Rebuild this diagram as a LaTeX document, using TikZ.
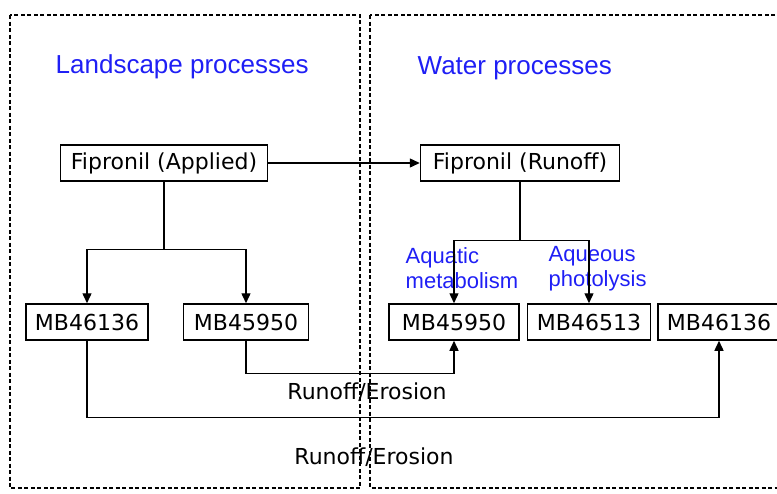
\documentclass[tikz,border=0pt]{standalone}
\usepackage{fontspec}
\setmainfont{DejaVu Sans}
\newfontfamily\arialfont{Liberation Sans}
\usetikzlibrary{arrows.meta, positioning}
\definecolor{cblue}{HTML}{1F1FF5}
\tikzset{
  every picture/.style={line width=1.4pt, x=1pt, y=-1pt},
  box/.style={draw, line width=1.5pt, minimum width=#1, minimum height=36pt, inner sep=0pt,
    font=\fontsize{22}{26}\selectfont},
  box/.default=122pt,
  zone/.style={dash pattern=on 4pt off 2.5pt, line width=1.3pt},
  arrow/.style={-{Triangle[length=10pt, width=9pt]}, line width=1.4pt},
  title/.style={text=cblue, font=\arialfont\fontsize{26}{30}\selectfont, anchor=west, inner sep=0pt},
  proc/.style={text=cblue, font=\arialfont\fontsize{22}{25}\selectfont, align=left, anchor=west, inner sep=0pt},
  flow/.style={font=\fontsize{22}{26}\selectfont, inner sep=0pt},
}
\begin{document}
\begin{tikzpicture}
  \useasboundingbox (0,0) rectangle (777,493);
  \clip (0,0) rectangle (777,493);
  % the two zones
  \draw[zone] (10,15) rectangle (360,488);
  \draw[zone] (370,15) rectangle (795,488);
  \node[title] (landscape) at (55,67) {Landscape processes};
  \node[title] (water) at (417,68) {Water processes};
  % compounds
  \node[box=207pt] (applied) at (164,163) {Fipronil (Applied)};
  \node[box=199pt] (runoff) at (520,163) {Fipronil (Runoff)};
  \node[box=122pt] (lmb46136) at (87,322) {MB46136};
  \node[box=125pt] (lmb45950) at (246,322) {MB45950};
  \node[box=130pt] (rmb45950) at (454,322) {MB45950};
  \node[box=123pt] (mb46513) at (589,322) {MB46513};
  \node[box=122pt] (rmb46136) at (719,322) {MB46136};
  % transformations
  \node[proc] (aquatic) at (405,268) {Aquatic\\metabolism};
  \node[proc] (aqueous) at (548,269) {Aqueous\\photolysis};
  \draw[arrow] (applied) -- (runoff);
  \draw (applied.south) -- ++(0,68) coordinate (lfork);
  \draw[arrow] (lfork) -| (lmb46136.north);
  \draw[arrow] (lfork) -| (lmb45950.north);
  \draw (runoff.south) -- ++(0,59) coordinate (rfork);
  \draw[arrow] (rfork) -| (rmb45950.north);
  \draw[arrow] (rfork) -| (mb46513.north);
  % runoff from landscape to water
  \draw[arrow] (lmb45950.south) -- ++(0,33) -| (rmb45950.south);
  \node[flow] (erosion1) at (367,392) {Runoff/Erosion};
  \draw[arrow] (lmb46136.south) -- ++(0,77) -| (rmb46136.south);
  \node[flow] (erosion2) at (374,457) {Runoff/Erosion};
\end{tikzpicture}
\end{document}
